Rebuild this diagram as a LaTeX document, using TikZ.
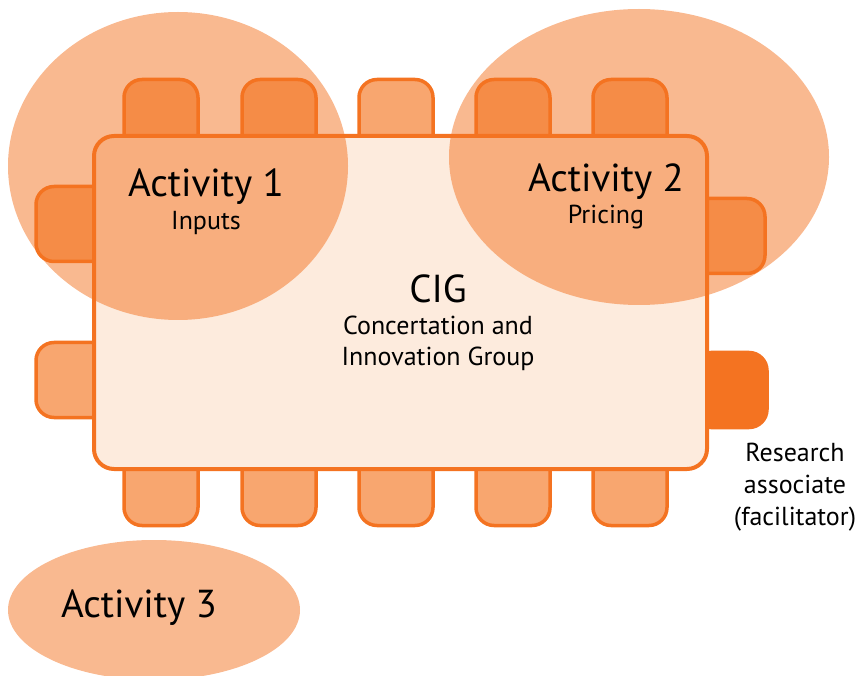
\documentclass[tikz,border=0pt]{standalone}
\usepackage{fontspec}
\setmainfont{PT Sans}
\usetikzlibrary{shapes.geometric}
\definecolor{cigorange}{HTML}{F47321}
\definecolor{chairfill}{HTML}{F8A66F}
\definecolor{tablefill}{HTML}{FDEBDD}
\begin{document}
\begin{tikzpicture}[x=1pt, y=-1pt]
	\tikzstyle{chair} = [draw=cigorange, fill=chairfill, line width=3.5pt, rounded corners=18pt, minimum width=74pt, minimum height=75pt, inner sep=0pt];
	\tikzstyle{desk} = [draw=cigorange, fill=tablefill, line width=4pt, rounded corners=20pt, minimum width=613pt, minimum height=333pt, inner sep=0pt];
	\tikzstyle{activity} = [ellipse, fill=cigorange, fill opacity=0.5, inner sep=0pt];
	\tikzstyle{big} = [font=\fontsize{39}{46}\selectfont, inner sep=0pt, anchor=base];
	\tikzstyle{small} = [font=\fontsize{26}{32}\selectfont, inner sep=0pt, anchor=base, align=center];
	\useasboundingbox (0,0) rectangle (857,676);

	% chairs
	\foreach \x [count=\i] in {161,279,396,513,630} {
		\node[chair] (top\i) at (\x,117) {};
		\node[chair] (bottom\i) at (\x,488) {};
	}
	\node[chair] (left1) at (73,224) {};
	\node[chair] (left2) at (73,380) {};
	\node[chair] (right1) at (728,236) {};
	\node[chair, fill=cigorange] (facil) at (730,390) {};

	% table
	\node[desk] (CIG) at (400.5,302.5) {};

	% activities
	\node[activity, minimum width=340pt, minimum height=308pt] (act1) at (178,166) {};
	\node[activity, minimum width=380pt, minimum height=296pt] (act2) at (639,157) {};
	\node[activity, minimum width=292pt, minimum height=140pt] (act3) at (154,610) {};

	% labels
	\node[big] (act1title) at (206,197) {Activity 1};
	\node[small] (act1sub) at (206,230) {Inputs};
	\node[big] (act2title) at (606,192) {Activity 2};
	\node[small] (act2sub) at (606,224) {Pricing};
	\node[big] (act3title) at (139,617) {Activity 3};
	\node[big] (CIGtitle) at (438,303) {CIG};
	\node[small] (CIGsub) at (438,366) {Concertation and\\Innovation Group};
	\node[small] (faciltext) at (795,525) {Research\\associate\\(facilitator)};
\end{tikzpicture}
\end{document}
